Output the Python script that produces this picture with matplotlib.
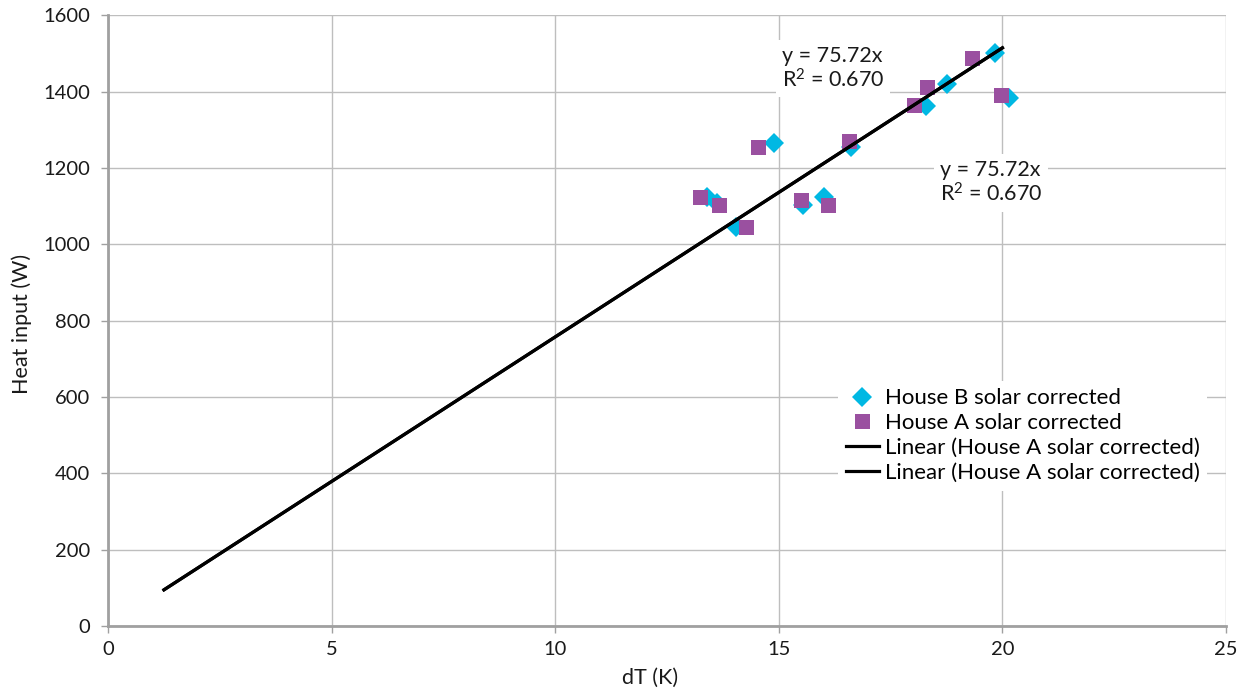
import matplotlib
matplotlib.use("Agg")
import matplotlib.pyplot as plt

plt.rcParams['font.family'] = ['Lato', 'DejaVu Sans']
plt.rcParams['mathtext.fontset'] = 'custom'
plt.rcParams['mathtext.rm'] = 'Lato'
plt.rcParams['mathtext.it'] = 'Lato'
plt.rcParams['mathtext.default'] = 'regular'

# Data
house_b_dt = [13.39, 13.61, 14.04, 14.89, 15.55, 16.01, 16.61, 18.29, 18.77, 19.83, 20.15]
house_b_q = [1124, 1107, 1046, 1264, 1102, 1124, 1255, 1362, 1419, 1500, 1384]
house_a_dt = [13.24, 13.66, 14.26, 14.54, 15.50, 16.09, 16.57, 18.02, 18.32, 19.33, 19.96]
house_a_q = [1124, 1102, 1046, 1254, 1115, 1102, 1271, 1364, 1411, 1487, 1390]
slope = 75.72
fit_x = [1.25, 20.0]
x_ticks = [0, 5, 10, 15, 20, 25]
y_ticks = [0, 200, 400, 600, 800, 1000, 1200, 1400, 1600]

cyan = '#00B8E3'
purple = '#9A50A0'
grid_c = '#BEBEBE'
axis_c = '#A0A0A0'
text_c = '#1a1a1a'

fig = plt.figure(figsize=(12.39, 6.90), dpi=100)
ax = fig.add_axes([0.0872, 0.0928, 0.9023, 0.8852])

ax.set_xlim(0, 25)
ax.set_ylim(0, 1600)
ax.set_xticks(x_ticks)
ax.set_yticks(y_ticks)
ax.grid(True, color=grid_c, linewidth=1.0)
ax.set_axisbelow(True)
for s in ['top', 'right']:
    ax.spines[s].set_visible(False)
for s in ['left', 'bottom']:
    ax.spines[s].set_color(axis_c)
    ax.spines[s].set_linewidth(2.0)
ax.tick_params(axis='both', colors=axis_c, length=5, width=1.0, labelcolor=text_c, labelsize=14.5)
ax.tick_params(axis='y', pad=8)
ax.tick_params(axis='x', pad=6)

ax.plot(house_b_dt, house_b_q, linestyle='none', marker='D', markersize=10.5, color=cyan,
        markeredgewidth=0, label='House B solar corrected', zorder=3)
ax.plot(house_a_dt, house_a_q, linestyle='none', marker='s', markersize=10.8, color=purple,
        markeredgewidth=0, label='House A solar corrected', zorder=4)
fy = [slope * x for x in fit_x]
ax.plot(fit_x, fy, color='black', linewidth=2.3, label='Linear (House A solar corrected)', zorder=5)
ax.plot(fit_x, fy, color='black', linewidth=2.3, label='Linear (House A solar corrected)', zorder=5)

eq = 'y = 75.72x\nR$^{2}$ = 0.670'
ax.text(15.07, 1520, eq, fontsize=15.5, va='top', ha='left', color=text_c, linespacing=1.15,
        bbox=dict(facecolor='white', edgecolor='none', pad=4), zorder=6)
ax.text(18.6, 1221, eq, fontsize=15.5, va='top', ha='left', color=text_c, linespacing=1.15,
        bbox=dict(facecolor='white', edgecolor='none', pad=4), zorder=6)

ax.set_xlabel('dT (K)', fontsize=15.5, color=text_c)
ax.xaxis.set_label_coords(0.485, -0.068)
ax.set_ylabel('Heat input (W)', fontsize=15.5, color=text_c)
ax.yaxis.set_label_coords(-0.068, 0.495)

leg = ax.legend(loc='upper left', bbox_to_anchor=(0.643, 0.42), frameon=True, fontsize=16,
                handlelength=1.5, handletextpad=0.25, borderpad=0.35, labelspacing=0.22,
                fancybox=False)
leg.get_frame().set_edgecolor('none')
leg.get_frame().set_facecolor('white')
leg.get_frame().set_alpha(1)
leg.set_zorder(7)

fig.savefig('out.png', dpi=100)
